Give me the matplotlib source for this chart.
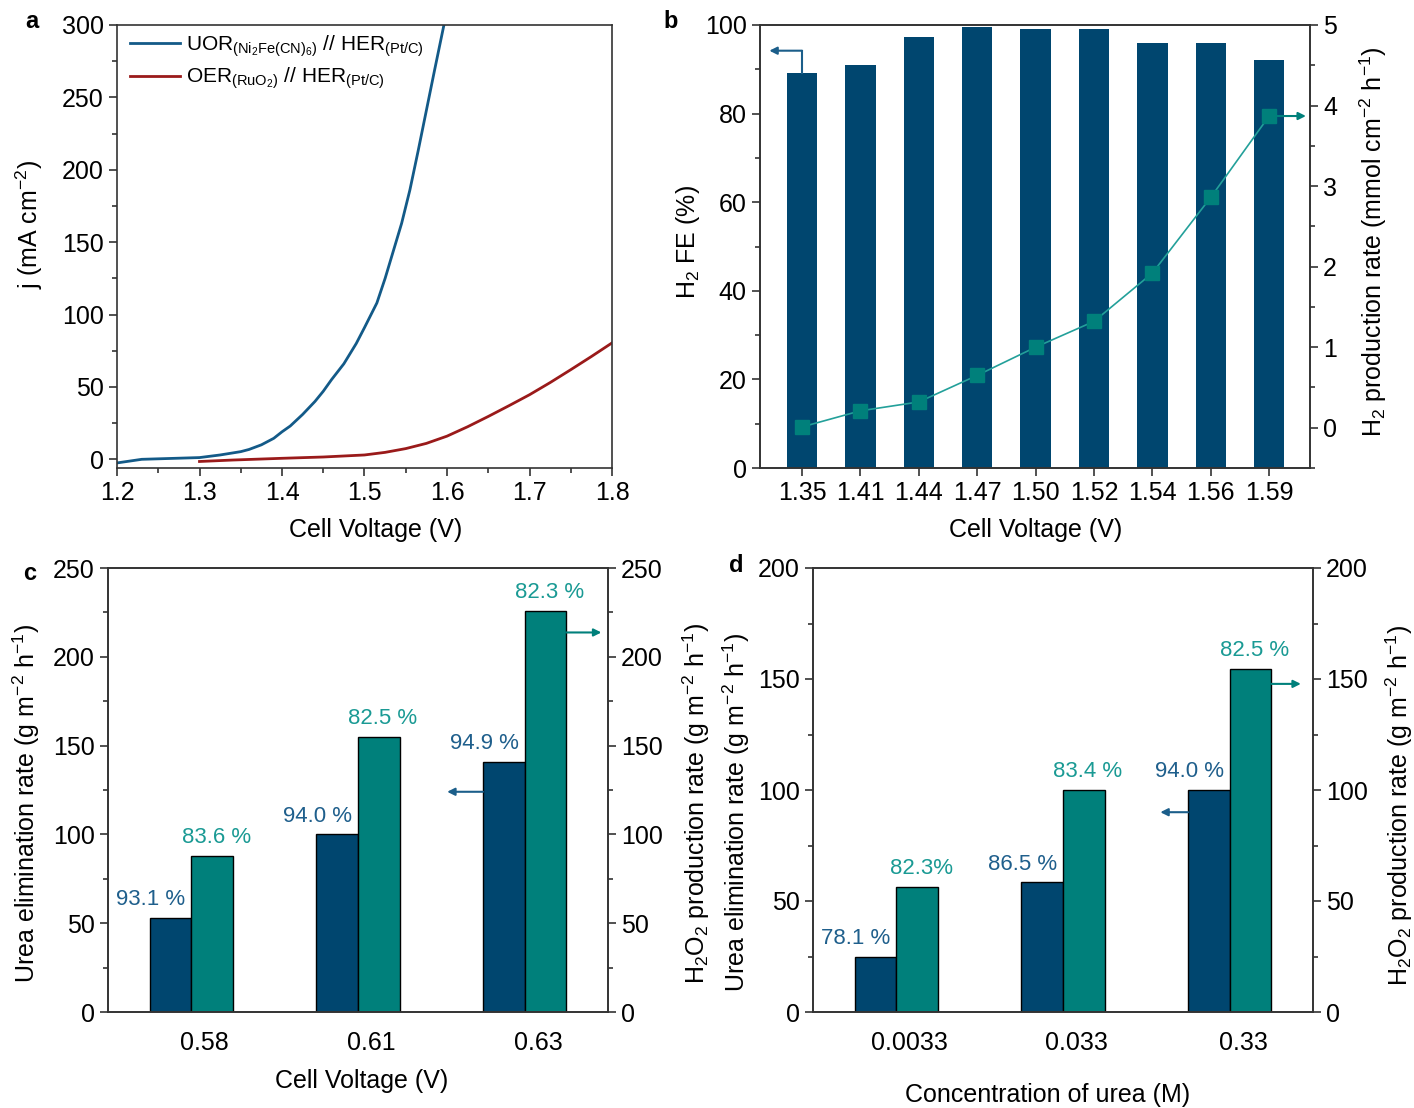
import numpy as np
import matplotlib
matplotlib.use("Agg")
import matplotlib.pyplot as plt
from matplotlib.ticker import MultipleLocator

plt.rcParams['font.family'] = ['Liberation Sans', 'DejaVu Sans']
plt.rcParams['mathtext.fontset'] = 'custom'
plt.rcParams['mathtext.rm'] = 'Liberation Sans'
plt.rcParams['mathtext.it'] = 'Liberation Sans:italic'
plt.rcParams['mathtext.default'] = 'regular'

# panel a - polarization curves
uor_v = [1.20, 1.23, 1.30, 1.325, 1.35, 1.36, 1.375, 1.39, 1.40, 1.41, 1.425,
         1.44, 1.45, 1.46, 1.475, 1.49, 1.50, 1.515, 1.525, 1.535, 1.545,
         1.555, 1.565, 1.575, 1.585, 1.597]
uor_j = [-2.5, 0, 1.2, 3, 5.3, 6.8, 10, 14.5, 19, 23, 31, 40, 47, 55, 66, 80,
         91, 108, 125, 144, 163, 186, 213, 241, 269, 302]
oer_v = [1.30, 1.34, 1.40, 1.45, 1.50, 1.525, 1.55, 1.575, 1.60, 1.625, 1.65,
         1.675, 1.70, 1.725, 1.75, 1.775, 1.80]
oer_j = [-1.5, -0.5, 0.7, 1.6, 3.0, 4.8, 7.4, 11, 16, 22.5, 29.6, 37, 44.6,
         53, 61.9, 71, 80.4]

# panel b - H2 FE and production rate
b_volt = ['1.35', '1.41', '1.44', '1.47', '1.50', '1.52', '1.54', '1.56', '1.59']
b_fe = [89.1, 90.9, 97.3, 99.6, 99.1, 99.1, 95.9, 95.9, 92.1]
b_rate = [0.01, 0.21, 0.32, 0.65, 1.0, 1.32, 1.92, 2.86, 3.87]

# panel c - urea elimination / H2O2 production vs voltage
c_volt = ['0.58', '0.61', '0.63']
c_urea = [53, 100, 141]
c_h2o2 = [88, 155, 226]
c_urea_fe = ['93.1 %', '94.0 %', '94.9 %']
c_h2o2_fe = ['83.6 %', '82.5 %', '82.3 %']

# panel d - vs urea concentration
d_conc = ['0.0033', '0.033', '0.33']
d_urea = [25, 58.5, 100]
d_h2o2 = [56.3, 100, 154.5]
d_urea_fe = ['78.1 %', '86.5 %', '94.0 %']
d_h2o2_fe = ['82.3%', '83.4 %', '82.5 %']

navy = '#00466f'
teal = '#00807b'
blue_txt = '#1f5f8c'
teal_txt = '#1a9a94'
uor_col = '#135a88'
oer_col = '#9a1a1a'
spine_col = '#333333'
fs = 18

W, H = 1414, 1108
fig = plt.figure(figsize=(W / 100, H / 100), dpi=100)


def px_axes(l, t, r, b):
    return fig.add_axes([l / W, 1 - b / H, (r - l) / W, (b - t) / H])


def style(ax):
    for s in ax.spines.values():
        s.set_color(spine_col)
        s.set_linewidth(1.2)
    ax.tick_params(which='major', direction='out', length=6, width=1.2,
                   labelsize=fs, color=spine_col)
    ax.tick_params(which='minor', direction='out', length=3.5, width=1.2,
                   color=spine_col)


def arrow(ax, x0, x1, y, col):
    ax.annotate('', xy=(x1, y), xytext=(x0, y),
                arrowprops=dict(arrowstyle='-|>', color=col, lw=1.5,
                                mutation_scale=11, shrinkA=0, shrinkB=0))


# ---- a ----
ax = px_axes(117, 25, 612, 468)
style(ax)
ax.plot(uor_v, uor_j, color=uor_col, lw=2,
        label=r'UOR$_{(Ni_2Fe(CN)_6)}$ // HER$_{(Pt/C)}$')
ax.plot(oer_v, oer_j, color=oer_col, lw=2,
        label=r'OER$_{(RuO_2)}$ // HER$_{(Pt/C)}$')
ax.set_xlim(1.2, 1.8)
ax.set_ylim(-6, 300)
ax.xaxis.set_major_locator(MultipleLocator(0.1))
ax.xaxis.set_minor_locator(MultipleLocator(0.05))
ax.yaxis.set_major_locator(MultipleLocator(50))
ax.yaxis.set_minor_locator(MultipleLocator(25))
ax.set_xlabel('Cell Voltage (V)', fontsize=fs)
ax.set_ylabel(r'j (mA cm$^{-2}$)', fontsize=fs)
ax.xaxis.set_label_coords(0.523, -0.113)
ax.yaxis.set_label_coords(-0.145, 0.55)
ax.legend(loc='upper left', frameon=False, fontsize=15, handlelength=2.4,
          handletextpad=0.3, borderaxespad=0.2, labelspacing=0.35,
          bbox_to_anchor=(0.0, 1.01))

# ---- b ----
ax = px_axes(760, 25, 1310, 468)
style(ax)
xb = np.arange(len(b_volt))
ax.bar(xb, b_fe, width=0.52, color=navy)
ax.set_xlim(-0.72, 8.7)
ax.set_ylim(0, 100)
ax.set_xticks(xb)
ax.set_xticklabels(b_volt)
ax.yaxis.set_major_locator(MultipleLocator(20))
ax.yaxis.set_minor_locator(MultipleLocator(10))
ax.set_xlabel('Cell Voltage (V)', fontsize=fs)
ax.set_ylabel(r'H$_2$ FE (%)', fontsize=fs)
ax.xaxis.set_label_coords(0.502, -0.113)
ax.yaxis.set_label_coords(-0.105, 0.51)
ax.plot([0, 0], [b_fe[0], 94.2], color='#1b5e8a', lw=1.5)
arrow(ax, 0, -0.56, 94.2, '#1b5e8a')
ax2 = ax.twinx()
style(ax2)
ax2.plot(xb, b_rate, color='#23a09a', lw=1.2, marker='s', markersize=10,
         markerfacecolor=teal, markeredgecolor=teal)
ax2.set_ylim(-0.5, 5)
ax2.yaxis.set_major_locator(MultipleLocator(1))
ax2.yaxis.set_minor_locator(MultipleLocator(0.5))
ax2.set_ylabel(r'H$_2$ production rate (mmol cm$^{-2}$ h$^{-1}$)', fontsize=fs)
ax2.yaxis.set_label_coords(1.087, 0.51)
arrow(ax2, 8, 8.63, b_rate[-1], teal)


# ---- c and d ----
def grouped(l, t, r, b, cats, urea, h2o2, urea_fe, h2o2_fe, ymax, xlab,
            xlab_y, lcoords, rcoords, larrow, rarrow):
    ax = px_axes(l, t, r, b)
    style(ax)
    x = np.arange(len(cats))
    w = 0.25
    ax.bar(x - w / 2, urea, width=w, color=navy, edgecolor='black', lw=1)
    ax.bar(x + w / 2, h2o2, width=w, color=teal, edgecolor='black', lw=1)
    for i in range(len(cats)):
        ax.annotate(urea_fe[i], (x[i] - w / 2, urea[i]), xytext=(-14, 13),
                    textcoords='offset points', ha='center', va='center',
                    color=blue_txt, fontsize=16)
        ax.annotate(h2o2_fe[i], (x[i] + w / 2, h2o2[i]), xytext=(3, 13),
                    textcoords='offset points', ha='center', va='center',
                    color=teal_txt, fontsize=16)
    ax.set_xlim(-0.5, 2.5)
    ax.set_ylim(0, ymax)
    ax.set_xticks(x + 0.08)
    ax.set_xticklabels(cats)
    ax.tick_params(axis='x', length=0, pad=14)
    ax.yaxis.set_major_locator(MultipleLocator(50))
    ax.yaxis.set_minor_locator(MultipleLocator(25))
    ax.set_xlabel(xlab, fontsize=fs)
    ax.xaxis.set_label_coords(lcoords[2], xlab_y)
    ax.set_ylabel(r'Urea elimination rate (g m$^{-2}$ h$^{-1}$)', fontsize=fs)
    ax.yaxis.set_label_coords(lcoords[0], lcoords[1])
    arrow(ax, 1.75, larrow[0], larrow[1], '#1b5e8a')
    ax2 = ax.twinx()
    style(ax2)
    ax2.set_ylim(0, ymax)
    ax2.yaxis.set_major_locator(MultipleLocator(50))
    ax2.yaxis.set_minor_locator(MultipleLocator(25))
    ax2.set_ylabel(r'H$_2$O$_2$ production rate (g m$^{-2}$ h$^{-1}$)', fontsize=fs)
    ax2.yaxis.set_label_coords(rcoords[0], rcoords[1])
    arrow(ax2, 2.25, rarrow[0], rarrow[1], teal)
    return ax


grouped(108, 568, 608, 1012, c_volt, c_urea, c_h2o2, c_urea_fe, c_h2o2_fe,
        250, 'Cell Voltage (V)', -0.128, (-0.132, 0.47, 0.508), (1.146, 0.47),
        (1.535, 124), (2.46, 213.7))
grouped(813, 568, 1313, 1012, d_conc, d_urea, d_h2o2, d_urea_fe, d_h2o2_fe,
        200, 'Concentration of urea (M)', -0.16, (-0.122, 0.45, 0.47),
        (1.142, 0.466), (1.584, 90), (2.427, 147.8))

for lab, (xp, yp) in zip('abcd', [(32, 22), (671, 22), (30, 573), (736, 565)]):
    fig.text(xp / W, 1 - yp / H, lab, fontsize=17, fontweight='bold',
             ha='center', va='center')

fig.savefig('out.png', dpi=100)
